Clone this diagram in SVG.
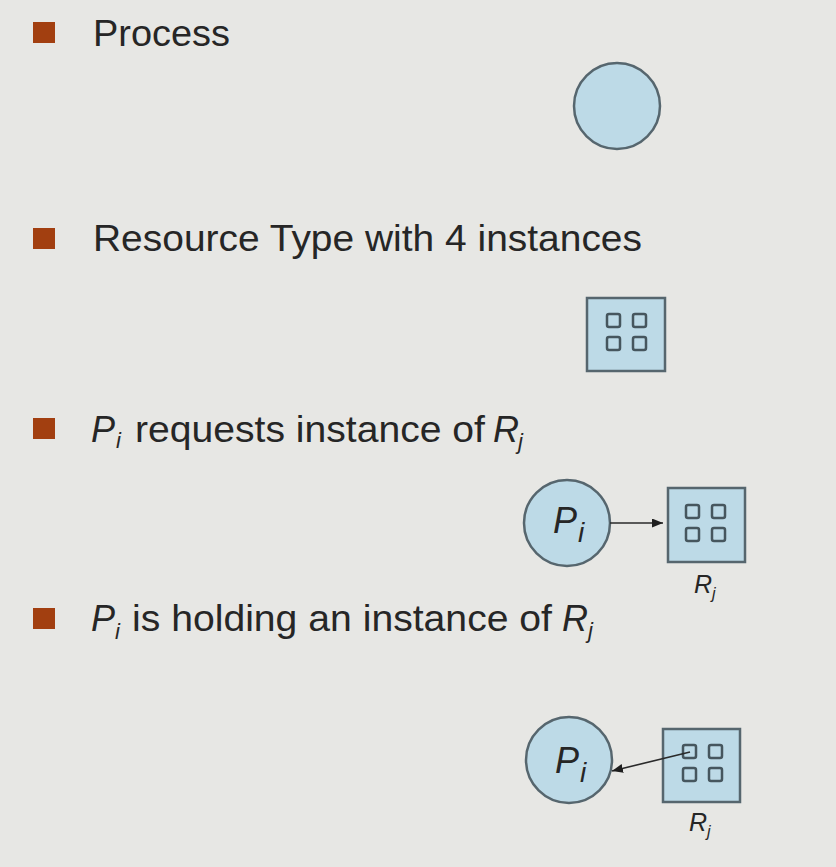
<svg xmlns="http://www.w3.org/2000/svg" width="836" height="867" viewBox="0 0 836 867">
  <style>
    .bg { fill: #e7e7e4; }
    .bullet { fill: #a23f10; }
    .t { font-family: "Liberation Sans", Arial, sans-serif; font-size: 36px; fill: #262626; }
    .it { font-style: italic; }
    .proc { fill: #bddae7; stroke: #56666e; stroke-width: 2.5; }
    .res { fill: #bddae7; stroke: #56666e; stroke-width: 2.5; }
    .inst { fill: none; stroke: #46565e; stroke-width: 2.5; }
    .edge { stroke: #2a2a2a; stroke-width: 1.6; fill: none; }
  </style>
  <defs>
    <marker id="arrow" markerUnits="userSpaceOnUse" markerWidth="12" markerHeight="10" refX="11" refY="4.5" orient="auto">
      <path d="M0,0 L11,4.5 L0,9 z" fill="#1e1e1e"/>
    </marker>
    <g id="instances">
      <rect x="0" y="0" width="13" height="13" rx="2" class="inst"/>
      <rect x="26" y="0" width="13" height="13" rx="2" class="inst"/>
      <rect x="0" y="23" width="13" height="13" rx="2" class="inst"/>
      <rect x="26" y="23" width="13" height="13" rx="2" class="inst"/>
    </g>
  </defs>
  <rect class="bg" x="0" y="0" width="836" height="867"/>

  <!-- Bullet 1 -->
  <g id="item-process">
    <rect class="bullet" x="33" y="22" width="22" height="21"/>
    <text class="t" x="93" y="46" textLength="137" lengthAdjust="spacingAndGlyphs">Process</text>
  </g>
  <g id="node-process">
    <circle class="proc" cx="617" cy="106" r="43"/>
  </g>

  <!-- Bullet 2 -->
  <g id="item-resource">
    <rect class="bullet" x="33" y="228" width="22" height="21"/>
    <text class="t" x="93" y="251" textLength="549" lengthAdjust="spacingAndGlyphs">Resource Type with 4 instances</text>
  </g>
  <g id="node-resource">
    <rect class="res" x="587" y="298" width="78" height="73"/>
    <use href="#instances" x="607" y="314"/>
  </g>

  <!-- Bullet 3 -->
  <g id="item-request">
    <rect class="bullet" x="33" y="418" width="22" height="21"/>
    <text class="t it" x="91" y="442">P</text>
    <text class="t it" x="116" y="448" style="font-size:22px">i</text>
    <text class="t" x="135" y="442" textLength="350" lengthAdjust="spacingAndGlyphs">requests instance of</text>
    <text class="t it" x="493" y="442">R</text>
    <text class="t it" x="518" y="449" style="font-size:22px">j</text>
  </g>
  <g id="node-request-P">
    <circle class="proc" cx="567" cy="523" r="43"/>
    <text class="t it" x="553" y="533">P</text>
    <text class="t it" x="578" y="542" style="font-size:28px">i</text>
  </g>
  <g id="node-request-R">
    <rect class="res" x="668" y="488" width="77" height="74"/>
    <use href="#instances" x="686" y="505"/>
    <text class="t it" x="694" y="593" style="font-size:25px">R</text>
    <text class="t it" x="712" y="599" style="font-size:16px">j</text>
  </g>

  <!-- Bullet 4 -->
  <g id="item-holding">
    <rect class="bullet" x="33" y="608" width="22" height="21"/>
    <text class="t it" x="91" y="631">P</text>
    <text class="t it" x="115" y="639" style="font-size:22px">i</text>
    <text class="t" x="132" y="631" textLength="420" lengthAdjust="spacingAndGlyphs">is holding an instance of</text>
    <text class="t it" x="562" y="631">R</text>
    <text class="t it" x="588" y="638" style="font-size:22px">j</text>
  </g>
  <g id="node-holding-P">
    <circle class="proc" cx="569" cy="760" r="43"/>
    <text class="t it" x="555" y="773">P</text>
    <text class="t it" x="580" y="782" style="font-size:28px">i</text>
  </g>
  <g id="node-holding-R">
    <rect class="res" x="663" y="729" width="77" height="73"/>
    <use href="#instances" x="683" y="745"/>
    <text class="t it" x="689" y="831" style="font-size:25px">R</text>
    <text class="t it" x="707" y="837" style="font-size:16px">j</text>
  </g>

  <!-- Connectors -->
  <g id="connectors">
    <line class="edge" x1="690" y1="752" x2="612" y2="771" marker-end="url(#arrow)"/>
    <line class="edge" x1="610" y1="523" x2="663" y2="523" marker-end="url(#arrow)"/>
  </g>
</svg>
